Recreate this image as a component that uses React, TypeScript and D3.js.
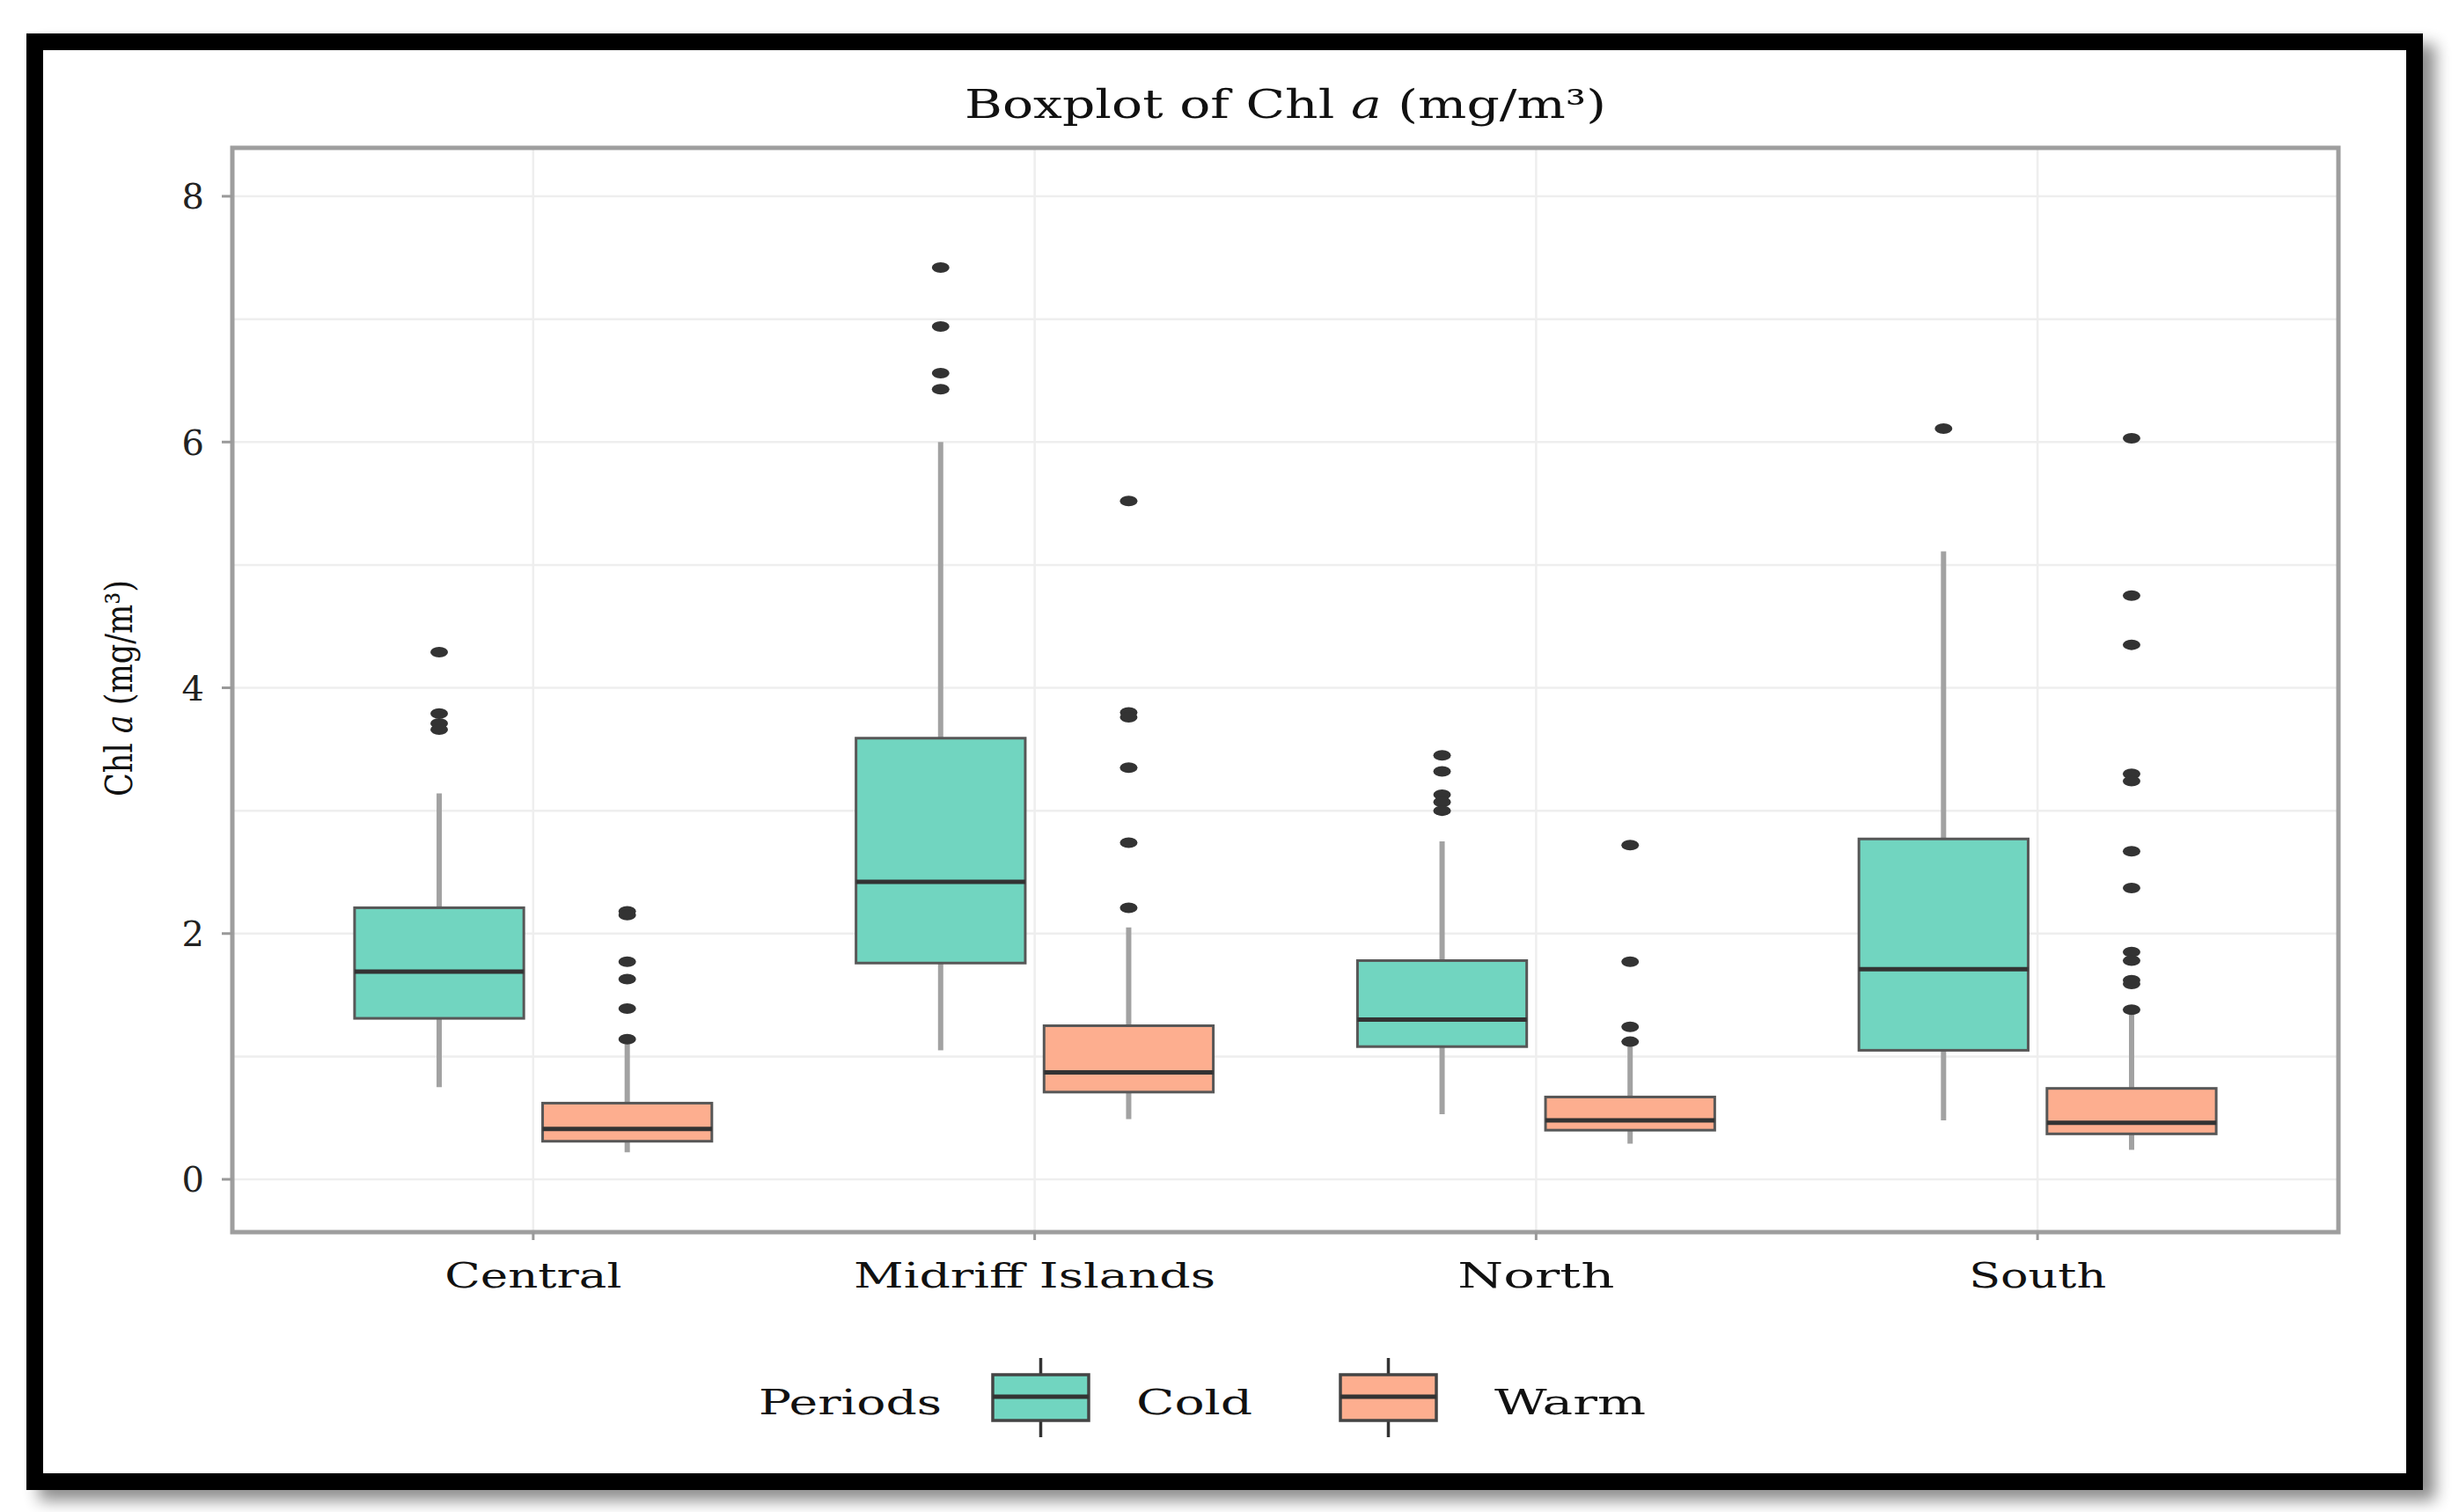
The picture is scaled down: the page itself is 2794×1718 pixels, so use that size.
import React, { useRef, useEffect } from "react";
import * as d3 from "d3";

// Categories and groups of the boxplot
const regions = ["Central", "Midriff Islands", "North", "South"];
const periods = ["Cold", "Warm"];
const yTicks = [0, 2, 4, 6, 8];

// Box summaries: lower whisker, Q1, median, Q3, upper whisker
const coldBoxes = [
  [0.75, 1.31, 1.69, 2.21, 3.14],
  [1.05, 1.76, 2.42, 3.59, 6.0],
  [0.53, 1.08, 1.3, 1.78, 2.75],
  [0.48, 1.05, 1.71, 2.77, 5.11],
];
const warmBoxes = [
  [0.22, 0.31, 0.41, 0.62, 1.11],
  [0.49, 0.71, 0.87, 1.25, 2.05],
  [0.29, 0.4, 0.48, 0.67, 1.09],
  [0.24, 0.37, 0.46, 0.74, 1.36],
];

// Outlier points per region
const coldOutliers = [
  [4.29, 3.79, 3.71, 3.66],
  [7.42, 6.94, 6.56, 6.43],
  [3.45, 3.32, 3.13, 3.07, 3.0],
  [6.11],
];
const warmOutliers = [
  [2.18, 2.15, 1.77, 1.63, 1.39, 1.14],
  [5.52, 3.8, 3.76, 3.35, 2.74, 2.21],
  [2.72, 1.77, 1.24, 1.12],
  [6.03, 4.75, 4.35, 3.3, 3.24, 2.67, 2.37, 1.85, 1.78, 1.62, 1.59, 1.38],
];

const FONT = "'DejaVu Serif', serif";

function Boxplot() {
  const chartRef = useRef(null);

  useEffect(() => {
    const svg = d3.select(chartRef.current);
    svg.selectAll("*").remove();

    const panel = { left: 264, right: 2657, top: 168, bottom: 1400 };

    // outer black frame with a soft drop shadow
    const defs = svg.append("defs");
    defs.append("filter").attr("id", "shadow")
      .attr("x", "-5%").attr("y", "-5%").attr("width", "110%").attr("height", "110%")
      .append("feGaussianBlur").attr("stdDeviation", 9);
    svg.append("rect")
      .attr("x", 44).attr("y", 50).attr("width", 2723).attr("height", 1655)
      .attr("fill", "#000").attr("opacity", 0.45).attr("filter", "url(#shadow)");
    svg.append("rect")
      .attr("x", 39.5).attr("y", 47.5).attr("width", 2704).attr("height", 1636)
      .attr("fill", "#fff").attr("stroke", "#000").attr("stroke-width", 19);

    // scales
    const x = d3.scalePoint().domain(regions).range([panel.left, panel.right]).padding(0.6);
    const step = x.step();
    const inner = d3.scaleBand().domain(periods)
      .range([-0.375 * step, 0.375 * step]).paddingInner(0.1).paddingOuter(0.05);
    const y = d3.scaleLinear().domain([0, 8]).range([1340, 223]);
    const color = d3.scaleOrdinal().domain(periods).range(["#71d5c0", "#fdae8f"]);

    // grid lines (major + minor)
    const grid = svg.append("g");
    grid.selectAll(".hg").data(y.ticks(8)).enter().append("line")
      .attr("x1", panel.left).attr("x2", panel.right)
      .attr("y1", (d) => y(d)).attr("y2", (d) => y(d))
      .attr("stroke", "#eeeeee").attr("stroke-width", 2.5);
    grid.selectAll(".vg").data(regions).enter().append("line")
      .attr("x1", (d) => x(d)).attr("x2", (d) => x(d))
      .attr("y1", panel.top).attr("y2", panel.bottom)
      .attr("stroke", "#eeeeee").attr("stroke-width", 2.5);

    // boxes
    const series = [
      { period: "Cold", boxes: coldBoxes, outliers: coldOutliers },
      { period: "Warm", boxes: warmBoxes, outliers: warmOutliers },
    ];
    const bw = inner.bandwidth();
    series.forEach((s) => {
      const g = svg.append("g");
      s.boxes.forEach((b, i) => {
        const cx = x(regions[i]) + inner(s.period) + bw / 2;
        const [lo, q1, med, q3, hi] = b;
        g.append("line").attr("x1", cx).attr("x2", cx).attr("y1", y(hi)).attr("y2", y(q3))
          .attr("stroke", "#a2a2a2").attr("stroke-width", 6);
        g.append("line").attr("x1", cx).attr("x2", cx).attr("y1", y(q1)).attr("y2", y(lo))
          .attr("stroke", "#a2a2a2").attr("stroke-width", 6);
        g.append("rect")
          .attr("x", cx - bw / 2).attr("width", bw)
          .attr("y", y(q3)).attr("height", y(q1) - y(q3))
          .attr("fill", color(s.period)).attr("stroke", "#575757").attr("stroke-width", 3);
        g.append("line").attr("x1", cx - bw / 2).attr("x2", cx + bw / 2)
          .attr("y1", y(med)).attr("y2", y(med))
          .attr("stroke", "#333").attr("stroke-width", 5);
        g.selectAll(null).data(s.outliers[i]).enter().append("ellipse")
          .attr("cx", cx).attr("cy", (d) => y(d)).attr("rx", 10).attr("ry", 6)
          .attr("fill", "#333");
      });
    });

    // panel border
    svg.append("rect")
      .attr("x", panel.left).attr("y", panel.top)
      .attr("width", panel.right - panel.left).attr("height", panel.bottom - panel.top)
      .attr("fill", "none").attr("stroke", "#9e9e9e").attr("stroke-width", 5);

    // y axis ticks and labels
    const ya = svg.append("g");
    ya.selectAll("line").data(yTicks).enter().append("line")
      .attr("x1", panel.left - 12).attr("x2", panel.left)
      .attr("y1", (d) => y(d)).attr("y2", (d) => y(d))
      .attr("stroke", "#999").attr("stroke-width", 3);
    ya.selectAll("text").data(yTicks).enter().append("text")
      .attr("x", 232).attr("y", (d) => y(d)).attr("dy", "0.36em")
      .attr("text-anchor", "end").style("font-family", FONT).style("font-size", "40px")
      .attr("fill", "#222").text((d) => d);

    // x axis ticks and labels
    const labelWidths = [201, 411, 178, 156];
    const xa = svg.append("g");
    xa.selectAll("line").data(regions).enter().append("line")
      .attr("x1", (d) => x(d)).attr("x2", (d) => x(d))
      .attr("y1", panel.bottom).attr("y2", panel.bottom + 9)
      .attr("stroke", "#999").attr("stroke-width", 3);
    xa.selectAll("text").data(regions).enter().append("text")
      .attr("x", (d) => x(d)).attr("y", 1463).attr("text-anchor", "middle")
      .attr("textLength", (d, i) => labelWidths[i]).attr("lengthAdjust", "spacingAndGlyphs")
      .style("font-family", FONT).style("font-size", "40px").attr("fill", "#111")
      .text((d) => d);

    // title
    const title = svg.append("text")
      .attr("x", (panel.left + panel.right) / 2).attr("y", 134).attr("text-anchor", "middle")
      .attr("textLength", 729).attr("lengthAdjust", "spacingAndGlyphs")
      .style("font-family", FONT).style("font-size", "45px").attr("fill", "#111");
    title.append("tspan").text("Boxplot of Chl ");
    title.append("tspan").style("font-style", "italic").text("a");
    title.append("tspan").text(" (mg/m³)");

    // y axis title
    const yt = svg.append("text")
      .attr("transform", "translate(150,782) rotate(-90)").attr("text-anchor", "middle")
      .attr("textLength", 246).attr("lengthAdjust", "spacingAndGlyphs")
      .style("font-family", FONT).style("font-size", "42px").attr("fill", "#111");
    yt.append("tspan").text("Chl ");
    yt.append("tspan").style("font-style", "italic").text("a");
    yt.append("tspan").text(" (mg/m³)");

    // legend
    const leg = svg.append("g");
    leg.append("text").attr("x", 862).attr("y", 1607).attr("textLength", 208)
      .attr("lengthAdjust", "spacingAndGlyphs")
      .style("font-family", FONT).style("font-size", "40px").attr("fill", "#111").text("Periods");
    const keyX = [1128, 1523];
    const textX = [1291, 1698];
    const textW = [132, 172];
    periods.forEach((p, i) => {
      const kx = keyX[i];
      const kc = kx + 54.5;
      leg.append("line").attr("x1", kc).attr("x2", kc).attr("y1", 1543).attr("y2", 1633)
        .attr("stroke", "#333").attr("stroke-width", 3.5);
      leg.append("rect").attr("x", kx).attr("y", 1562).attr("width", 109).attr("height", 52)
        .attr("fill", color(p)).attr("stroke", "#444").attr("stroke-width", 3.5);
      leg.append("line").attr("x1", kx).attr("x2", kx + 109).attr("y1", 1587).attr("y2", 1587)
        .attr("stroke", "#333").attr("stroke-width", 5);
      leg.append("text").attr("x", textX[i]).attr("y", 1607).attr("textLength", textW[i])
        .attr("lengthAdjust", "spacingAndGlyphs")
        .style("font-family", FONT).style("font-size", "40px").attr("fill", "#111").text(p);
    });
  }, []);

  return (
    <svg ref={chartRef} width={2794} height={1718}
      style={{ position: "absolute", left: 0, top: 0, background: "#fff" }}></svg>
  );
}

export default function App() {
  return <Boxplot />;
}
